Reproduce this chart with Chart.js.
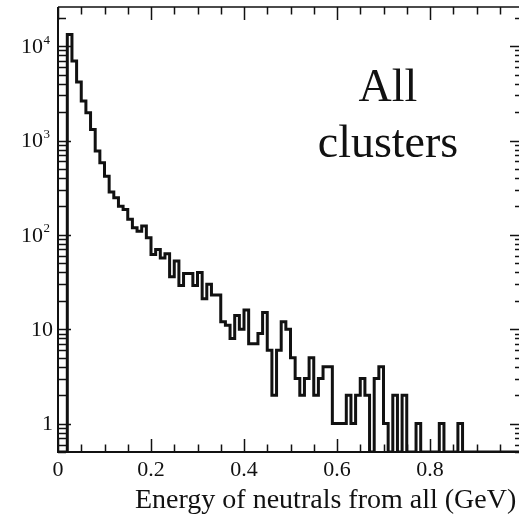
<!DOCTYPE html>
<html>
<head>
<meta charset="utf-8">
<script src="https://cdn.jsdelivr.net/npm/chart.js@4.4.1/dist/chart.umd.min.js"></script>
<style>
  html, body { margin: 0; padding: 0; background: #fff; overflow: hidden; }
  #wrap { width: 519px; height: 521px; overflow: hidden; position: relative; }
  #wrap canvas { position: absolute; left: 0; top: 0; }
</style>
</head>
<body>
<div id="wrap"><canvas id="energyChart" width="528" height="521"></canvas></div>
<script>
// histogram of neutral energy, 100 bins of 0.01 GeV from 0 to 1 GeV
const binWidth = 0.01;
const counts = [
    0, 0, 13300, 6950, 4160, 2620, 1970, 1310, 772, 582,
    419, 284, 247, 201, 186, 146, 119, 109, 124, 93,
    62, 70, 57, 63, 36, 53, 29, 39, 39, 29,
    40, 21, 30, 23, 23, 12, 11, 8, 14, 10,
    16, 7, 7, 9, 15, 6, 2, 6, 12, 10,
    5, 3, 2, 3, 5, 2, 3, 4, 4, 1,
    1, 1, 2, 1, 2, 3, 2, 0, 3, 4,
    1, 0, 2, 0, 2, 0, 0, 1, 0, 0,
    0, 0, 1, 0, 0, 0, 1, 0, 0, 0,
    0, 0, 0, 0, 0, 0, 0, 0, 0, 0
];
const xMajorTicks = [0, 0.2, 0.4, 0.6, 0.8, 1.0];
const xLabels = ["0", "0.2", "0.4", "0.6", "0.8", ""];
const yDecades = [1, 10, 100, 1000, 10000];
const yLabelBase = ["1", "10", "10", "10", "10"];
const yLabelExp = ["", "", "2", "3", "4"];
const yMin = 0.5, yMax = 26000;

const serif = "'Liberation Serif', 'Times New Roman', serif";
const ink = "#111";

// step points: left edge of every bin, plus the closing edge; empty bins sit on the floor
const points = counts.map((c, i) => ({x: i * binWidth, y: Math.max(c, yMin)}));
points.push({x: counts.length * binWidth, y: Math.max(counts[counts.length - 1], yMin)});

const framePlugin = {
    id: "frame",
    afterDatasetsDraw(chart) {
        const {ctx, chartArea: a, scales: {x, y}} = chart;
        ctx.save();
        ctx.strokeStyle = ink;

        // box
        ctx.lineWidth = 2;
        ctx.beginPath();
        ctx.moveTo(a.left, a.top); ctx.lineTo(a.left, a.bottom); ctx.lineTo(a.right, a.bottom);
        ctx.stroke();
        ctx.lineWidth = 1.5;
        ctx.beginPath();
        ctx.moveTo(a.left, a.top); ctx.lineTo(a.right, a.top); ctx.lineTo(a.right, a.bottom);
        ctx.stroke();

        // x ticks, bottom and top, pointing in
        ctx.lineWidth = 1.5;
        for (let k = 0; k <= 20; k++) {
            const v = k * 0.05;
            const px = Math.round(x.getPixelForValue(v)) + 0.5;
            const len = (k % 4 === 0) ? 13 : 7.5;
            ctx.beginPath();
            ctx.moveTo(px, a.bottom); ctx.lineTo(px, a.bottom - len);
            ctx.moveTo(px, a.top); ctx.lineTo(px, a.top + len);
            ctx.stroke();
        }

        // y ticks, left and right, decades plus 2..9 minors
        for (let d = 0.1; d <= 10000; d *= 10) {
            for (let m = 1; m <= 9; m++) {
                const v = m * d;
                if (v < yMin || v > yMax) continue;
                const py = Math.round(y.getPixelForValue(v)) + 0.5;
                const len = (m === 1) ? 13 : 8;
                ctx.beginPath();
                ctx.moveTo(a.left, py); ctx.lineTo(a.left + len, py);
                ctx.moveTo(a.right, py); ctx.lineTo(a.right - len, py);
                ctx.stroke();
            }
        }

        // y labels with superscript exponents
        ctx.fillStyle = ink;
        ctx.textBaseline = "middle";
        yDecades.forEach((v, i) => {
            const py = y.getPixelForValue(v);
            if (yLabelExp[i]) {
                ctx.font = "13px " + serif;
                ctx.textAlign = "right";
                ctx.fillText(yLabelExp[i], 50, py - 6);
                ctx.font = "22px " + serif;
                ctx.fillText(yLabelBase[i], 43, py + 1);
            } else {
                ctx.font = "22px " + serif;
                ctx.textAlign = "right";
                ctx.fillText(yLabelBase[i], 53, py + 1);
            }
        });

        // axis title
        ctx.font = "28px " + serif;
        ctx.textAlign = "left";
        ctx.textBaseline = "alphabetic";
        ctx.fillText("Energy of neutrals from all (GeV)", 135, 508);

        // panel label
        ctx.font = "46px " + serif;
        ctx.textAlign = "center";
        ctx.fillText("All", 388, 101);
        ctx.fillText("clusters", 388, 157);
        ctx.restore();
    }
};

const chart = new Chart(document.getElementById("energyChart"), {
    type: "line",
    data: {
        datasets: [{
            data: points,
            stepped: "before",
            borderColor: ink,
            borderWidth: 3,
            pointRadius: 0,
            fill: false
        }]
    },
    options: {
        responsive: false,
        animation: false,
        layout: {padding: {top: 7, right: 1, left: 0, bottom: 0}},
        plugins: {legend: {display: false}, tooltip: {enabled: false}},
        scales: {
            x: {
                type: "linear",
                min: 0,
                max: 1,
                grid: {display: false, drawTicks: false},
                border: {display: false},
                afterBuildTicks: s => { s.ticks = xMajorTicks.map(v => ({value: v})); },
                afterFit: s => { s.height = 69; },
                ticks: {
                    padding: 5,
                    maxRotation: 0,
                    color: ink,
                    font: {family: serif, size: 22},
                    callback: (v, i) => xLabels[i]
                }
            },
            y: {
                type: "logarithmic",
                min: yMin,
                max: yMax,
                grid: {display: false, drawTicks: false},
                border: {display: false},
                ticks: {display: false},
                afterFit: s => { s.width = 58; }
            }
        }
    },
    plugins: [framePlugin]
});
</script>
</body>
</html>
